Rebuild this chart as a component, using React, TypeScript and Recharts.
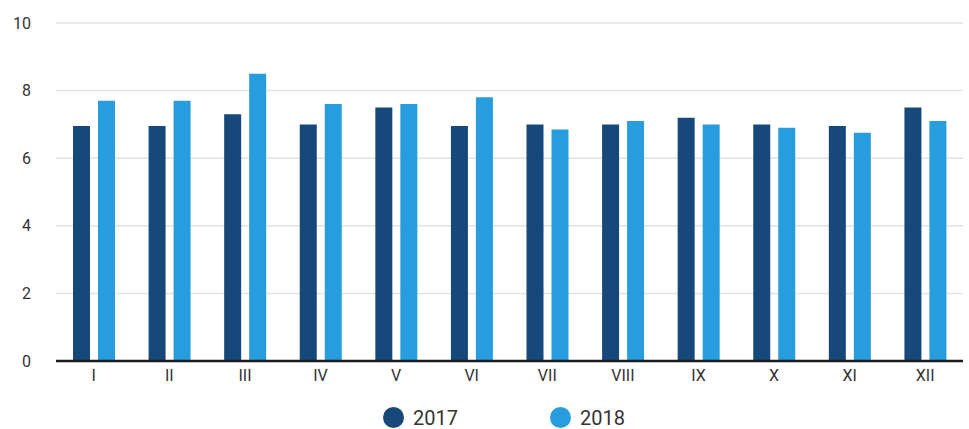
import { Bar, BarChart, CartesianGrid, Legend, XAxis, YAxis } from "recharts";

const months = ["I", "II", "III", "IV", "V", "VI", "VII", "VIII", "IX", "X", "XI", "XII"];
const values2017 = [6.95, 6.95, 7.3, 7.0, 7.5, 6.95, 7.0, 7.0, 7.2, 7.0, 6.95, 7.5];
const values2018 = [7.7, 7.7, 8.5, 7.6, 7.6, 7.8, 6.85, 7.1, 7.0, 6.9, 6.75, 7.1];
const yTicks = [0, 2, 4, 6, 8, 10];

const data = months.map((name, i) => ({
  name,
  y2017: values2017[i],
  y2018: values2018[i],
}));

const FONT = "Roboto, sans-serif";

function LegendContent({ payload }: any) {
  const lefts = [383, 550];
  return (
    <div style={{ position: "relative", width: 969, height: 40 }}>
      {(payload || []).map((entry: any, i: number) => (
        <div
          key={entry.value}
          style={{
            position: "absolute",
            left: lefts[i],
            top: 18,
            height: 21,
            display: "flex",
            alignItems: "center",
            fontFamily: FONT,
            fontSize: 20,
            color: "#333",
            lineHeight: "20px",
          }}
        >
          <span
            style={{
              width: 21,
              height: 21,
              borderRadius: "50%",
              background: entry.color,
              display: "inline-block",
              marginRight: 9,
            }}
          />
          <span>{entry.value}</span>
        </div>
      ))}
    </div>
  );
}

export default function App() {
  return (
    <div style={{ position: "absolute", left: 0, top: 0, width: 969, height: 429, background: "#fff" }}>
      <BarChart
        width={969}
        height={429}
        data={data}
        barGap={8}
        barSize={17}
        margin={{ top: 23, right: 6, left: 0, bottom: 0 }}
      >
        <CartesianGrid vertical={false} stroke="#e2e2e2" strokeWidth={1.5} />
        <XAxis
          dataKey="name"
          height={28}
          tickLine={false}
          tickSize={0}
          tickMargin={9}
          axisLine={{ stroke: "#1c1c1c", strokeWidth: 2.5 }}
          interval={0}
          tick={{ fill: "#333", fontSize: 16, fontFamily: FONT }}
        />
        <YAxis
          width={56}
          domain={[0, 10]}
          ticks={yTicks}
          axisLine={false}
          tickLine={false}
          tickSize={0}
          tickMargin={25}
          tick={{ fill: "#333", fontSize: 16, fontFamily: FONT }}
        />
        <Legend
          verticalAlign="bottom"
          wrapperStyle={{ left: 0, width: 969 }}
          content={<LegendContent />}
        />
        <Bar dataKey="y2017" name="2017" fill="#17487a" isAnimationActive={false} />
        <Bar dataKey="y2018" name="2018" fill="#279ddd" isAnimationActive={false} />
      </BarChart>
    </div>
  );
}
